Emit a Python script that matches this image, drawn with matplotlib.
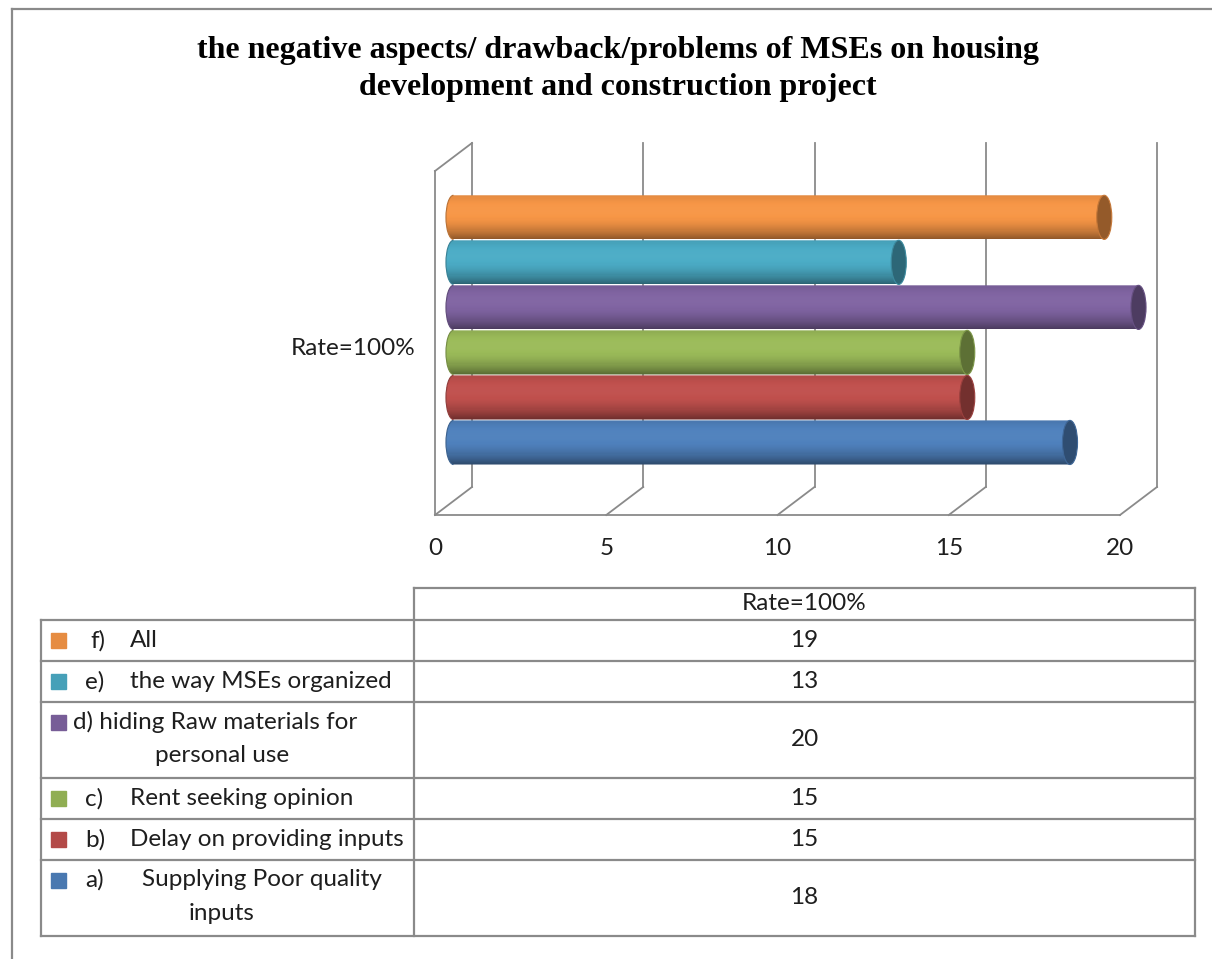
import textwrap
import numpy as np
import matplotlib
matplotlib.use('Agg')
import matplotlib.pyplot as plt
from matplotlib.patches import Ellipse, PathPatch, Rectangle, Arc
from matplotlib.path import Path
from matplotlib.colors import to_rgb

# data (bottom bar first)
codes = ['a)', 'b)', 'c)', 'd)', 'e)', 'f)']
items = ['Supplying Poor quality inputs', 'Delay on providing inputs',
         'Rent seeking opinion', 'hiding Raw materials for personal use',
         'the way MSEs organized', 'All']
rates = [18, 15, 15, 20, 13, 19]
colors = ['#4F81BD', '#C0504D', '#9BBB59', '#8064A2', '#4BACC6', '#F79646']
series_name = 'Rate=100%'
xticks = [0, 5, 10, 15, 20]
title = ('the negative aspects/ drawback/problems of MSEs on housing\n'
         'development and construction project')

W, H = 1212, 959
SANS = ['Lato', 'DejaVu Sans']
FS = 17.5
grey = '#8a8a8a'
ink = '#1e1e1e'

fig = plt.figure(figsize=(W / 100, H / 100), dpi=100)

# background axes in pixel coords for frame, title, table
bg = fig.add_axes([0, 0, 1, 1])
bg.set_xlim(0, W); bg.set_ylim(H, 0); bg.axis('off')
bg.plot([12, W], [9, 9], color=grey, lw=1.6)
bg.plot([12, 12], [9, H], color=grey, lw=1.6)
bg.text(618, 69, title, ha='center', va='center', fontsize=23,
        fontweight='bold', family='Liberation Serif', linespacing=1.38)

# chart axes = mid-depth plane of the 3d box
ax = fig.add_axes([453.5 / W, (H - 501) / H, 685 / W, 344 / H])
ybot, ytop = -1.3, 6.34
ax.set_xlim(0, 20); ax.set_ylim(ybot, ytop); ax.axis('off')
dx, dy = 18.5 / 34.25, 14 / 45.0   # half depth in data units

lk = dict(color=grey, lw=1.3, clip_on=False, zorder=1)
for t in xticks:
    ax.plot([t + dx, t + dx], [ybot + dy, ytop + dy], **lk)          # back wall
    ax.plot([t - dx, t + dx], [ybot - dy, ybot + dy], **lk)          # floor
    ax.text(t - dx, ybot - dy - 33 / 45, str(t), ha='center', va='center',
            fontsize=FS, family=SANS, color=ink, clip_on=False)
ax.plot([xticks[0] - dx, xticks[-1] - dx], [ybot - dy, ybot - dy], **lk)
ax.plot([-dx, -dx], [ybot - dy, ytop - dy], **lk)
ax.plot([-dx, dx], [ytop - dy, ytop + dy], **lk)
ax.text(-1.12, 2.5 - dy - 0.1, series_name, ha='right', va='center',
        fontsize=FS, family=SANS, color=ink)


def shade(c, f):
    c = np.array(to_rgb(c))
    if f <= 1:
        return tuple(c * f)
    return tuple(np.clip(c + (f - 1) * (1 - c), 0, 1))


a, b, N = 0.22, 0.49, 40
for i, (v, c) in enumerate(zip(rates, colors)):
    th = np.linspace(np.pi / 2, 3 * np.pi / 2, 40)
    verts = np.column_stack([a * np.cos(th), i + b * np.sin(th)])
    verts = np.vstack([verts, [[v, i - b], [v, i + b], [0, i + b]]])
    clip = PathPatch(Path(verts, closed=True), transform=ax.transData)
    ys = i + b - (np.arange(N) + 0.5) * 2 * b / N
    tt = (np.arange(N) + 0.5) / N
    f = np.where(tt < 0.35, 1.02 - 0.9 * (0.35 - tt) ** 2,
                 1.02 - 1.05 * (tt - 0.35) ** 2)
    bars = ax.barh(ys, [v + a] * N, left=-a, height=2 * b / N * 1.05,
                   color=[shade(c, k) for k in f], linewidth=0, zorder=3)
    for r in bars:
        r.set_clip_box(None)
        r.set_clip_path(clip)
    ax.add_patch(Arc((0, i), 2 * a, 2 * b, theta1=90, theta2=270,
                     color=shade(c, 0.75), lw=0.8, zorder=3, clip_on=False))
    ax.add_patch(Ellipse((v, i), 2 * a, 2 * b, fc=shade(c, 0.6),
                         ec=shade(c, 0.8), lw=0.8, zorder=4, clip_on=False))

# data table
x0, xd, x1 = 41, 414, 1195
rows = []
for k in range(len(codes) - 1, -1, -1):
    lines = textwrap.wrap(items[k], 25)
    rows.append((k, lines, 76 if len(lines) > 1 else 41))
tk = dict(color=grey, lw=1.6, solid_capstyle='projecting')
tx = dict(va='center', fontsize=FS, family=SANS, color=ink)
y = 588
bg.plot([xd, x1], [y, y], **tk)
bg.text((xd + x1) / 2, (y + 620) / 2, series_name, ha='center', **tx)
y = 620
bg.plot([x0, x1], [y, y], **tk)
first_x = {'a)': 142}
for k, lines, h in rows:
    yc = y + h / 2
    yl = yc if len(lines) == 1 else y + 20
    bg.add_patch(Rectangle((51, yl - 7.5), 15, 15, color=shade(colors[k], 0.93)))
    if len(lines) == 1:
        bg.text(85 if codes[k] != 'f)' else 90, yl, codes[k], **tx)
        bg.text(130, yl, lines[0], **tx)
    else:
        if codes[k] in first_x:
            bg.text(85, yl, codes[k], **tx)
            bg.text(first_x[codes[k]], yl, lines[0], **tx)
        else:
            bg.text(73, yl, codes[k] + ' ' + lines[0], **tx)
        bg.text(222, yl + 33, lines[1], ha='center', **tx)
    bg.text((xd + x1) / 2, yc, str(rates[k]), ha='center', **tx)
    y += h
    bg.plot([x0, x1], [y, y], **tk)
bg.plot([x0, x0], [620, y], **tk)
bg.plot([xd, xd], [588, y], **tk)
bg.plot([x1, x1], [588, y], **tk)

fig.savefig('out.png', dpi=100)
